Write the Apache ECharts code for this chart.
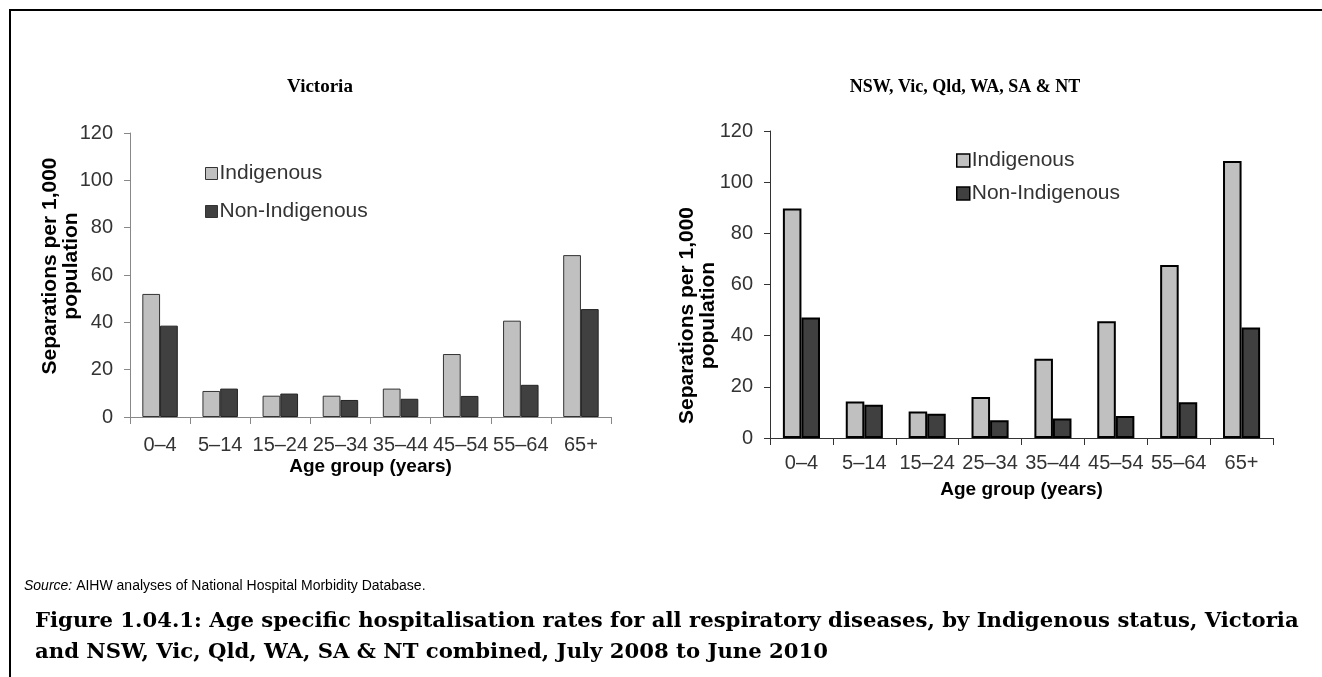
<!DOCTYPE html>
<html>
<head>
<meta charset="utf-8">
<script src="https://cdn.jsdelivr.net/npm/echarts@6/dist/echarts.min.js"></script>
<style>
  html, body { margin: 0; padding: 0; background: #fff; }
  #chart { width: 1322px; height: 677px; }
</style>
</head>
<body>
<div id="chart"></div>
<script>
// age groups shared by both panels
const ageGroups = ['0–4', '5–14', '15–24', '25–34', '35–44', '45–54', '55–64', '65+'];
const yTicks = [0, 20, 40, 60, 80, 100, 120];

// Victoria (separations per 1,000 population)
const vicIndigenous = [52, 11, 9, 9, 12, 26.6, 40.7, 68.4];
const vicNonIndigenous = [38.6, 12, 9.9, 7.2, 7.7, 8.9, 13.6, 45.6];

// NSW, Vic, Qld, WA, SA & NT combined
const sixIndigenous = [89.7, 14.3, 10.4, 16, 31, 45.6, 67.6, 108.3];
const sixNonIndigenous = [47.1, 13, 9.5, 6.9, 7.6, 8.6, 14, 43.2];

const sans = 'Liberation Sans, Arial, sans-serif';
const serif = 'Liberation Serif, serif';

function yAxisFor(gridIndex, axisColor, nameGap, padding) {
  return {
    type: 'value',
    gridIndex: gridIndex,
    min: yTicks[0],
    max: yTicks[yTicks.length - 1],
    interval: 20,
    name: 'Separations per 1,000\npopulation',
    nameLocation: 'middle',
    nameGap: nameGap,
    nameMoveOverlap: false,
    nameTextStyle: { fontFamily: sans, fontWeight: 'bold', fontSize: 21, color: '#000', lineHeight: 21, padding: padding },
    axisLine: { show: true, lineStyle: { color: axisColor, width: 1 } },
    axisTick: { show: true, length: 6, lineStyle: { color: axisColor } },
    axisLabel: { fontFamily: sans, fontSize: 20, color: '#333', margin: 17 },
    splitLine: { show: false }
  };
}

function xAxisFor(gridIndex, axisColor, margin, nameGap) {
  return {
    type: 'category',
    gridIndex: gridIndex,
    data: ageGroups,
    name: 'Age group (years)',
    nameLocation: 'middle',
    nameGap: nameGap,
    nameMoveOverlap: false,
    nameTextStyle: { fontFamily: sans, fontWeight: 'bold', fontSize: 19, color: '#000' },
    axisLine: { lineStyle: { color: axisColor, width: 1 } },
    axisTick: { show: true, length: 7, lineStyle: { color: axisColor } },
    axisLabel: { fontFamily: sans, fontSize: 20, color: '#333', margin: margin, interval: 0 }
  };
}

function barSeries(name, data, idx, color, borderColor, borderWidth) {
  return {
    name: name,
    type: 'bar',
    xAxisIndex: idx,
    yAxisIndex: idx,
    data: data,
    barGap: '0%',
    barCategoryGap: '41%',
    itemStyle: { color: color, borderColor: borderColor, borderWidth: borderWidth },
    emphasis: { disabled: true }
  };
}

const myChart = echarts.init(document.getElementById('chart'));

var option = {
  backgroundColor: '#fff',
  animation: false,
  title: [
    { text: 'Victoria', left: 315, top: 73, textAlign: 'center',
      textStyle: { fontFamily: serif, fontWeight: 'bold', fontSize: 19, color: '#000' } },
    { text: 'NSW, Vic, Qld, WA, SA & NT', left: 960, top: 73, textAlign: 'center',
      textStyle: { fontFamily: serif, fontWeight: 'bold', fontSize: 18, color: '#000' } },
    { text: '{i|Source:} AIHW analyses of National Hospital Morbidity Database.', left: 19, top: 574,
      textStyle: { fontFamily: sans, fontSize: 14, color: '#000', fontWeight: 'normal',
        rich: { i: { fontFamily: sans, fontSize: 14, fontStyle: 'italic', color: '#000' } } } },
    { text: 'Figure 1.04.1: Age specific hospitalisation rates for all respiratory diseases, by Indigenous status, Victoria\nand NSW, Vic, Qld, WA, SA & NT combined, July 2008 to June 2010',
      left: 30, top: 601,
      textStyle: { fontFamily: 'DejaVu Serif, serif', fontWeight: 'bold', fontSize: 21.2, lineHeight: 31, color: '#000' } }
  ],
  legend: [
    { data: ['Indigenous', 'Non-Indigenous'].map(n => ({ name: n })), orient: 'vertical',
      left: 200, top: 158, itemWidth: 12, itemHeight: 12, itemGap: 17,
      icon: 'rect', selectedMode: false,
      itemStyle: { borderColor: '#333', borderWidth: 1 },
      textStyle: { fontFamily: sans, fontSize: 21, color: '#333', padding: [0, 0, 0, -3] } },
    { data: ['Indigenous ', 'Non-Indigenous '].map(n => ({ name: n })), orient: 'vertical',
      left: 951, top: 145, itemWidth: 13, itemHeight: 13, itemGap: 12,
      icon: 'rect', selectedMode: false,
      itemStyle: { borderColor: '#000', borderWidth: 1.5 },
      textStyle: { fontFamily: sans, fontSize: 21, color: '#333', padding: [0, 0, 0, -3] } }
  ],
  grid: [
    { left: 130, top: 133, width: 481, height: 284 },
    { left: 770, top: 131, width: 503, height: 307 }
  ],
  xAxis: [
    xAxisFor(0, '#888', 18, 40),
    xAxisFor(1, '#333', 15, 42)
  ],
  yAxis: [
    yAxisFor(0, '#888', 48, [0, 0, 0, 18]),
    yAxisFor(1, '#333', 51, [0, 62, 0, 0])
  ],
  graphic: [
    { type: 'polyline', shape: { points: [[10, 677], [10, 10], [1322, 10]] },
      style: { stroke: '#000', lineWidth: 2, fill: null }, silent: true }
  ],
  series: [
    barSeries('Indigenous', vicIndigenous, 0, '#c0c0c0', '#333', 1),
    barSeries('Non-Indigenous', vicNonIndigenous, 0, '#404040', '#222', 1),
    barSeries('Indigenous ', sixIndigenous, 1, '#c0c0c0', '#000', 2),
    barSeries('Non-Indigenous ', sixNonIndigenous, 1, '#404040', '#000', 2)
  ]
};

if (option && typeof option === 'object') {
  myChart.setOption(option);
}
window.addEventListener('resize', myChart.resize);
</script>
</body>
</html>
